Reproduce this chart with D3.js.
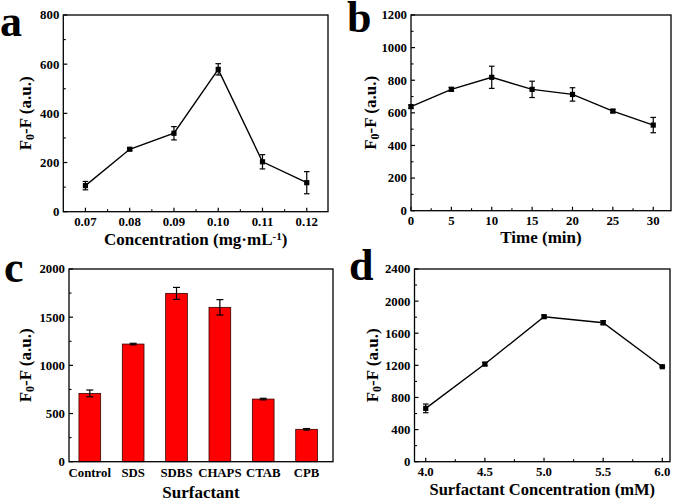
<!DOCTYPE html>
<html><head><meta charset="utf-8">
<script src="https://cdn.jsdelivr.net/npm/d3@7"></script>
<style>body{margin:0;background:#fff}svg{display:block}text{font-family:"Liberation Serif","Times New Roman",serif;font-weight:bold;fill:#000}</style>
</head><body>
<svg id="c" width="675" height="501"></svg>
<script>
// Panel a
const concA = [0.07, 0.08, 0.09, 0.10, 0.11, 0.12];
const valA = [106, 254, 319, 579, 203, 118];
const errA = [17, 5, 27, 23, 29, 45];
const yTicksA = [0, 200, 400, 600, 800];
// Panel b
const timeB = [0, 5, 10, 15, 20, 25, 30];
const valB = [638, 744, 818, 744, 713, 611, 525];
const errB = [10, 12, 68, 50, 41, 10, 47];
const yTicksB = [0, 200, 400, 600, 800, 1000, 1200];
// Panel c
const surfC = ["Control", "SDS", "SDBS", "CHAPS", "CTAB", "CPB"];
const valC = [709, 1221, 1747, 1602, 650, 336];
const errC = [35, 8, 62, 80, 8, 8];
const yTicksC = [0, 500, 1000, 1500, 2000];
// Panel d
const concD = [4.0, 4.5, 5.0, 5.5, 6.0];
const valD = [664, 1216, 1806, 1731, 1183];
const errD = [54, 20, 20, 25, 8];
const yTicksD = [0, 400, 800, 1200, 1600, 2000, 2400];

const svg = d3.select("#c");

function yTitle(g, x, y) {
  const t = g.append("text").attr("transform", `translate(${x},${y}) rotate(-90)`)
    .attr("text-anchor", "middle").style("font-size", "17px");
  t.append("tspan").text("F");
  t.append("tspan").text("0").attr("baseline-shift", "-28%").style("font-size", "12px");
  t.append("tspan").text("-F (a.u.)");
}

function frame(g, L, T, R, B) {
  g.append("rect").attr("x", L).attr("y", T).attr("width", R - L).attr("height", B - T)
    .attr("fill", "none").attr("stroke", "#000").attr("stroke-width", 1.3);
}

function yAxis(g, y, L, ticks, minorTicks) {
  g.selectAll(null).data(ticks).join("line")
    .attr("x1", L).attr("x2", L + 4).attr("y1", d => y(d)).attr("y2", d => y(d))
    .attr("stroke", "#000").attr("stroke-width", 1.2);
  g.selectAll(null).data(minorTicks).join("line")
    .attr("x1", L).attr("x2", L + 2.5).attr("y1", d => y(d)).attr("y2", d => y(d))
    .attr("stroke", "#000").attr("stroke-width", 1.1);
  g.selectAll(null).data(ticks).join("text")
    .attr("x", L - 4).attr("y", d => y(d) + 4.4).attr("text-anchor", "end")
    .style("font-size", "12.8px").text(d => d);
}

function xAxis(g, x, B, ticks, minorTicks, fmt) {
  g.selectAll(null).data(ticks).join("line")
    .attr("x1", d => x(d)).attr("x2", d => x(d)).attr("y1", B).attr("y2", B - 4)
    .attr("stroke", "#000").attr("stroke-width", 1.2);
  g.selectAll(null).data(minorTicks).join("line")
    .attr("x1", d => x(d)).attr("x2", d => x(d)).attr("y1", B).attr("y2", B - 2.5)
    .attr("stroke", "#000").attr("stroke-width", 1.1);
  g.selectAll(null).data(ticks).join("text")
    .attr("x", d => x(d)).attr("y", B + 14.5).attr("text-anchor", "middle")
    .style("font-size", "12.8px").text(fmt);
}

function lineSeries(g, x, y, xs, vs, es, cap) {
  const pts = xs.map((d, i) => ({ x: d, v: vs[i], e: es[i] }));
  g.append("path").datum(pts)
    .attr("d", d3.line().x(d => x(d.x)).y(d => y(d.v)))
    .attr("fill", "none").attr("stroke", "#000").attr("stroke-width", 1.4);
  const eb = g.selectAll(null).data(pts).join("g");
  eb.append("line").attr("x1", d => x(d.x)).attr("x2", d => x(d.x))
    .attr("y1", d => y(d.v - d.e)).attr("y2", d => y(d.v + d.e)).attr("stroke", "#000").attr("stroke-width", 1.2);
  eb.append("line").attr("x1", d => x(d.x) - cap).attr("x2", d => x(d.x) + cap)
    .attr("y1", d => y(d.v - d.e)).attr("y2", d => y(d.v - d.e)).attr("stroke", "#000").attr("stroke-width", 1.2);
  eb.append("line").attr("x1", d => x(d.x) - cap).attr("x2", d => x(d.x) + cap)
    .attr("y1", d => y(d.v + d.e)).attr("y2", d => y(d.v + d.e)).attr("stroke", "#000").attr("stroke-width", 1.2);
  g.selectAll(null).data(pts).join("rect")
    .attr("x", d => x(d.x) - 2.6).attr("y", d => y(d.v) - 2.6).attr("width", 5.2).attr("height", 5.2).attr("fill", "#000");
}

function letter(t, x, y) {
  svg.append("text").attr("x", x).attr("y", y).style("font-size", "44px").text(t);
}

// ---- Panel a ----
{
  const L = 63.3, T = 15, R = 328, B = 211.7;
  const g = svg.append("g");
  const x = d3.scaleLinear().domain([0.065, 0.1248]).range([L, R]);
  const y = d3.scaleLinear().domain([0, 800]).range([B, T]);
  frame(g, L, T, R, B);
  yAxis(g, y, L, yTicksA, [100, 300, 500, 700]);
  xAxis(g, x, B, concA, [0.075, 0.085, 0.095, 0.105, 0.115], d3.format(".2f"));
  lineSeries(g, x, y, concA, valA, errA, 2.8);
  yTitle(g, 31, (T + B) / 2);
  const t = g.append("text").attr("x", (L + R) / 2).attr("y", 245).attr("text-anchor", "middle").style("font-size", "17px");
  t.append("tspan").text("Concentration (mg·mL");
  t.append("tspan").text("-1").attr("baseline-shift", "45%").style("font-size", "11px");
  t.append("tspan").text(")");
  letter("a", 0, 36);
}
// ---- Panel b ----
{
  const L = 411, T = 15, R = 671, B = 210.7;
  const g = svg.append("g");
  const x = d3.scaleLinear().domain([0, 32.2]).range([L, R]);
  const y = d3.scaleLinear().domain([0, 1200]).range([B, T]);
  frame(g, L, T, R, B);
  yAxis(g, y, L, yTicksB, [100, 300, 500, 700, 900, 1100]);
  xAxis(g, x, B, timeB, [2.5, 7.5, 12.5, 17.5, 22.5, 27.5], d => d);
  lineSeries(g, x, y, timeB, valB, errB, 2.8);
  yTitle(g, 376, (T + B) / 2);
  g.append("text").attr("x", (L + R) / 2).attr("y", 243).attr("text-anchor", "middle").style("font-size", "17px").text("Time (min)");
  letter("b", 347, 32);
}
// ---- Panel c ----
{
  const L = 69, T = 269, R = 333, B = 461.7;
  const g = svg.append("g");
  const x = d3.scaleLinear().domain([0.52, 6.61]).range([L, R]);
  const y = d3.scaleLinear().domain([0, 2000]).range([B, T]);
  const bw = 21.7;
  const pts = surfC.map((c, i) => ({ c, i: i + 1, v: valC[i], e: errC[i] }));
  g.selectAll(null).data(pts).join("rect")
    .attr("x", d => x(d.i) - bw / 2).attr("y", d => y(d.v)).attr("width", bw).attr("height", d => B - y(d.v))
    .attr("fill", "#ff0000").attr("stroke", "#3a0000").attr("stroke-width", 0.8);
  const eb = g.selectAll(null).data(pts).join("g");
  const cap = 3.5;
  eb.append("line").attr("x1", d => x(d.i)).attr("x2", d => x(d.i)).attr("y1", d => y(d.v - d.e)).attr("y2", d => y(d.v + d.e)).attr("stroke", "#000").attr("stroke-width", 1.2);
  eb.append("line").attr("x1", d => x(d.i) - cap).attr("x2", d => x(d.i) + cap).attr("y1", d => y(d.v - d.e)).attr("y2", d => y(d.v - d.e)).attr("stroke", "#000").attr("stroke-width", 1.2);
  eb.append("line").attr("x1", d => x(d.i) - cap).attr("x2", d => x(d.i) + cap).attr("y1", d => y(d.v + d.e)).attr("y2", d => y(d.v + d.e)).attr("stroke", "#000").attr("stroke-width", 1.2);
  frame(g, L, T, R, B);
  yAxis(g, y, L, yTicksC, [250, 750, 1250, 1750]);
  g.selectAll(null).data(pts).join("text")
    .attr("x", d => x(d.i)).attr("y", B + 15).attr("text-anchor", "middle")
    .style("font-size", "12.8px").text(d => d.c);
  yTitle(g, 31, (T + B) / 2);
  g.append("text").attr("x", (L + R) / 2).attr("y", 498).attr("text-anchor", "middle").style("font-size", "17px").text("Surfactant");
  letter("c", 4, 282);
}
// ---- Panel d ----
{
  const L = 414.5, T = 269, R = 670, B = 461.7;
  const g = svg.append("g");
  const x = d3.scaleLinear().domain([3.905, 6.065]).range([L, R]);
  const y = d3.scaleLinear().domain([0, 2400]).range([B, T]);
  frame(g, L, T, R, B);
  yAxis(g, y, L, yTicksD, [200, 600, 1000, 1400, 1800, 2200]);
  xAxis(g, x, B, concD, [4.25, 4.75, 5.25, 5.75], d3.format(".1f"));
  lineSeries(g, x, y, concD, valD, errD, 2.8);
  yTitle(g, 378, (T + B) / 2);
  g.append("text").attr("x", (L + R) / 2).attr("y", 495).attr("text-anchor", "middle").style("font-size", "16.5px").text("Surfactant Concentration (mM)");
  letter("d", 349, 280);
}
</script>
</body></html>
